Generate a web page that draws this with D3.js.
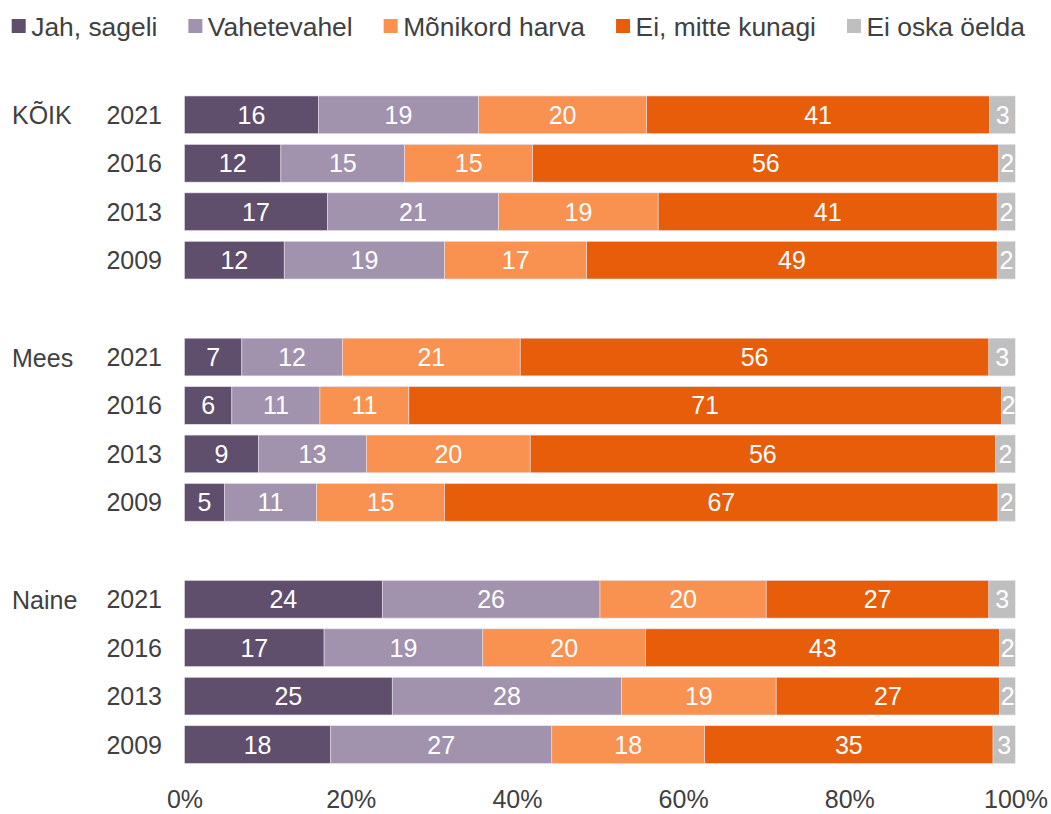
<!DOCTYPE html>
<html>
<head>
<meta charset="utf-8">
<script src="https://cdn.jsdelivr.net/npm/d3@7"></script>
<style>
  html, body { margin: 0; padding: 0; background: #ffffff; }
  svg text { font-family: "Liberation Sans", Arial, sans-serif; }
</style>
</head>
<body>
<svg id="chart" width="1051" height="814"></svg>
<script>
// ---- Data ----
const categories = ["Jah, sageli", "Vahetevahel", "Mõnikord harva", "Ei, mitte kunagi", "Ei oska öelda"];
const groups = ["KÕIK", "Mees", "Naine"];
const years = ["2021", "2016", "2013", "2009"];
// values per row: KÕIK 2021..2009, Mees 2021..2009, Naine 2021..2009
const jahSageli     = [16.1, 11.6, 17.2, 12.0,  6.9,  5.7,  8.9,  4.8, 23.8, 16.8, 25.0, 17.6];
const vahetevahel   = [19.3, 14.9, 20.6, 19.3, 12.1, 10.6, 13.0, 11.1, 26.2, 19.1, 27.6, 26.6];
const monikordHarva = [20.2, 15.4, 19.2, 17.1, 21.4, 10.7, 19.7, 15.4, 20.0, 19.6, 18.6, 18.4];
const eiMitteKunagi = [41.3, 56.1, 40.8, 49.4, 56.4, 71.3, 56.0, 66.6, 26.8, 42.6, 26.9, 34.7];
const eiOskaOelda   = [ 3.1,  2.0,  2.2,  2.2,  3.2,  1.7,  2.4,  2.1,  3.2,  1.9,  1.9,  2.7];
const xTicks = [0, 20, 40, 60, 80, 100];
const colors = ["#5f4f6c", "#a193ae", "#f99150", "#e85d0a", "#bfbfbf"];

const seriesArrays = [jahSageli, vahetevahel, monikordHarva, eiMitteKunagi, eiOskaOelda];

// Build rows (with spacer rows between groups)
const rows = [];
const rowKeys = [];
groups.forEach((g, gi) => {
  years.forEach((y, yi) => {
    const i = gi * years.length + yi;
    const r = { key: g + "|" + y, group: g, year: y, first: yi === 0 };
    categories.forEach((c, ci) => { r[c] = seriesArrays[ci][i]; });
    rows.push(r);
    rowKeys.push(r.key);
  });
  if (gi < groups.length - 1) rowKeys.push("gap" + gi);
});

const svg = d3.select("#chart");
const textColor = "#404040";
const fs = 25;

const x = d3.scaleLinear().domain([0, 100]).range([184.5, 1015.5]);
const y = d3.scaleBand().domain(rowKeys).range([90.6, 768.8])
  .paddingInner(0.222).paddingOuter(0.111);

const stack = d3.stack().keys(categories);
const stacked = stack(rows);

svg.append("defs").append("clipPath").attr("id", "plotclip")
  .append("rect").attr("x", x(0) - 2).attr("y", 0)
  .attr("width", x(100) - x(0) + 2).attr("height", 814);

const plot = svg.append("g").attr("clip-path", "url(#plotclip)");

const layers = plot.selectAll("g.layer").data(stacked).join("g")
  .attr("class", "layer")
  .attr("fill", (d, i) => colors[i]);

layers.selectAll("rect").data(d => d).join("rect")
  .attr("x", d => x(d[0]))
  .attr("y", d => y(d.data.key))
  .attr("width", d => x(d[1]) - x(d[0]))
  .attr("height", y.bandwidth())
  .attr("stroke", "#e4e0ea")
  .attr("stroke-width", 0.6);

layers.selectAll("text").data(d => d.map(p => ({ p: p, key: d.key }))).join("text")
  .attr("x", d => (x(d.p[0]) + x(d.p[1])) / 2)
  .attr("y", d => y(d.p.data.key) + y.bandwidth() / 2 + 9)
  .attr("text-anchor", "middle")
  .attr("fill", "#ffffff")
  .style("font-size", fs + "px")
  .text(d => Math.round(d.p.data[d.key]));

// Year labels
svg.append("g").selectAll("text").data(rows).join("text")
  .attr("x", 162)
  .attr("y", d => y(d.key) + y.bandwidth() / 2 + 9)
  .attr("text-anchor", "end")
  .attr("fill", textColor)
  .style("font-size", fs + "px")
  .text(d => d.year);

// Group labels
svg.append("g").selectAll("text").data(rows.filter(r => r.first)).join("text")
  .attr("x", 12)
  .attr("y", d => y(d.key) + y.bandwidth() / 2 + 9.5)
  .attr("fill", textColor)
  .style("font-size", fs + "px")
  .text(d => d.group);

// X axis
const xAxis = d3.axisBottom(x).tickValues(xTicks).tickSize(0).tickPadding(0)
  .tickFormat(d => d + "%");
const ax = svg.append("g").attr("transform", "translate(0,790)").call(xAxis);
ax.select(".domain").remove();
ax.selectAll("text").attr("fill", textColor)
  .style("font-size", fs + "px")
  .style("font-family", "'Liberation Sans', Arial, sans-serif");

// Legend
const legend = svg.append("g");
let lx = 11.7;
categories.forEach((c, i) => {
  const g = legend.append("g");
  g.append("rect").attr("x", lx).attr("y", 19).attr("width", 14).attr("height", 14)
    .attr("fill", colors[i]);
  const t = g.append("text").attr("x", lx + 19.5).attr("y", 35.7)
    .attr("fill", textColor).style("font-size", "26.4px").text(c);
  lx = lx + 19.5 + t.node().getComputedTextLength() + 31;
});
</script>
</body>
</html>
